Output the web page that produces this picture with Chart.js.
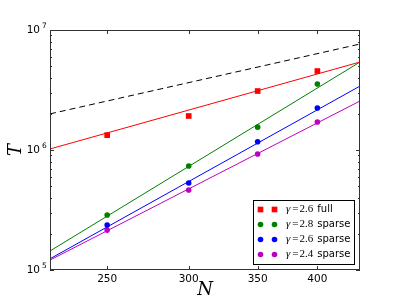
<!DOCTYPE html>
<html>
<head>
<meta charset="utf-8">
<script src="https://cdn.jsdelivr.net/npm/chart.js@4.4.1/dist/chart.umd.min.js"></script>
<style>
    html, body { margin: 0; padding: 0; background: #fff; }
    #wrap { width: 399px; height: 299px; }
</style>
</head>
<body>
<div id="wrap"><canvas id="grafico-tempo" width="399" height="299"></canvas></div>
<script>
// medidas (N, T)
const tamanhos = [250, 300, 350, 400];
const tFull26 = [1.33e6, 1.92e6, 3.10e6, 4.55e6];
const tSparse28 = [2.87e5, 7.36e5, 1.55e6, 3.55e6];
const tSparse26 = [2.37e5, 5.31e5, 1.17e6, 2.24e6];
const tSparse24 = [2.15e5, 4.64e5, 9.26e5, 1.71e6];

// retas de ajuste nas bordas do eixo
const ajusteN = [220, 440];
const ajusteFull26 = [1.02e6, 5.41e6];
const ajusteSparse28 = [1.44e5, 5.41e6];
const ajusteSparse26 = [1.24e5, 3.41e6];
const ajusteSparse24 = [1.21e5, 2.56e6];
const referencia = [2.0e6, 7.64e6];

const xTicks = [250, 300, 350, 400];
const yExpoentes = [5, 6, 7];

const pontos = (xs, ys) => xs.map((x, i) => ({ x, y: ys[i] }));
const isPotencia = v => Math.abs(Math.log10(v) - Math.round(Math.log10(v))) < 1e-9;

function serie(ys, cor, estilo, raio, gamma, tipo) {
    return {
        data: pontos(tamanhos, ys),
        backgroundColor: cor,
        borderColor: cor,
        pointStyle: estilo,
        pointRadius: raio,
        pointBorderWidth: 0,
        showLine: false,
        order: 0,
        legenda: { gamma, tipo }
    };
}

function reta(ys, cor, dash) {
    return {
        data: pontos(ajusteN, ys),
        borderColor: cor,
        borderWidth: 1,
        borderDash: dash || [],
        pointRadius: 0,
        showLine: true,
        fill: false,
        order: 1
    };
}

const molduraPlugin = {
    id: 'moldura',
    afterDraw(chart) {
        const { ctx, chartArea: a, scales: { x, y } } = chart;
        ctx.save();
        ctx.strokeStyle = '#333';
        ctx.lineWidth = 1;
        ctx.beginPath();
        y.ticks.forEach(t => {
            const py = Math.round(y.getPixelForValue(t.value)) + 0.5;
            const len = isPotencia(t.value) ? 4 : 2;
            ctx.moveTo(a.left, py); ctx.lineTo(a.left + len, py);
            ctx.moveTo(a.right, py); ctx.lineTo(a.right - len, py);
        });
        x.ticks.forEach(t => {
            const px = Math.round(x.getPixelForValue(t.value)) + 0.5;
            ctx.moveTo(px, a.bottom); ctx.lineTo(px, a.bottom - 4);
            ctx.moveTo(px, a.top); ctx.lineTo(px, a.top + 4);
        });
        ctx.stroke();
        ctx.strokeRect(a.left + 0.5, a.top + 0.5, a.width - 1, a.height - 1);

        // expoentes dos rotulos 10^k
        ctx.fillStyle = '#000';
        ctx.textBaseline = 'middle';
        ctx.textAlign = 'left';
        ctx.font = '7.5px "DejaVu Sans"';
        y.ticks.filter(t => isPotencia(t.value)).forEach(t => {
            const py = y.getPixelForValue(t.value);
            ctx.fillText(String(Math.round(Math.log10(t.value))), a.left - 8, py - 4);
        });

        // legenda com dois marcadores por entrada
        const entradas = chart.data.datasets.filter(d => d.legenda);
        const boxW = 101, boxH = 64;
        const bx = a.right - 6 - boxW, by = a.bottom - 6 - boxH;
        ctx.fillStyle = '#fff';
        ctx.fillRect(bx, by, boxW, boxH);
        ctx.strokeStyle = '#000';
        ctx.strokeRect(bx + 0.5, by + 0.5, boxW, boxH);
        entradas.forEach((d, i) => {
            const cy = by + 9.5 + i * 15;
            [bx + 7.5, bx + 21.5].forEach(cx => {
                ctx.fillStyle = d.backgroundColor;
                Chart.helpers.drawPoint(ctx, { pointStyle: d.pointStyle, radius: d.pointRadius, rotation: 0, borderWidth: 0 }, cx, cy);
            });
            ctx.fillStyle = '#000';
            let tx = bx + 33;
            ctx.font = 'italic 11px "Liberation Serif"';
            ctx.fillText('γ', tx, cy);
            tx += ctx.measureText('γ').width + 2;
            ctx.font = '11px "Liberation Serif"';
            ctx.fillText('=', tx, cy);
            tx += ctx.measureText('=').width + 1;
            ctx.fillText(d.legenda.gamma, tx, cy);
            tx += ctx.measureText(d.legenda.gamma).width + 4;
            ctx.font = '10px "DejaVu Sans"';
            ctx.fillText(d.legenda.tipo, tx, cy);
        });
        ctx.restore();
    }
};

function criarGrafico() {
    const data = {
        datasets: [
            serie(tFull26, '#ff0000', 'rect', 4, '2.6', 'full'),
            serie(tSparse28, '#008000', 'circle', 2.8, '2.8', 'sparse'),
            serie(tSparse26, '#0000ff', 'circle', 2.8, '2.6', 'sparse'),
            serie(tSparse24, '#bf00bf', 'circle', 2.8, '2.4', 'sparse'),
            reta(ajusteFull26, '#ff0000'),
            reta(ajusteSparse28, '#008000'),
            reta(ajusteSparse26, '#0000ff'),
            reta(ajusteSparse24, '#bf00bf'),
            reta(referencia, '#000000', [6, 4])
        ]
    };

    const config = {
        type: 'scatter',
        data,
        plugins: [molduraPlugin],
        options: {
            responsive: false,
            animation: false,
            events: [],
            layout: {
                padding: { left: 0, top: 30, right: 39, bottom: 0 }
            },
            plugins: {
                legend: { display: false },
                tooltip: { enabled: false }
            },
            scales: {
                x: {
                    type: 'logarithmic',
                    min: 220,
                    max: 440,
                    grid: { display: false, drawTicks: false },
                    border: { display: false },
                    afterBuildTicks: scale => {
                        scale.ticks = xTicks.map(v => ({ value: v }));
                    },
                    afterFit: scale => { scale.height = 29; },
                    ticks: {
                        autoSkip: false,
                        maxRotation: 0,
                        padding: 3,
                        color: '#000',
                        font: { family: 'DejaVu Sans', size: 10.5 },
                        callback: v => String(v)
                    },
                    title: {
                        display: true,
                        text: 'N',
                        color: '#000',
                        padding: { top: 0, bottom: 0 },
                        font: { family: 'DejaVu Serif', style: 'italic', size: 18, lineHeight: 1 }
                    }
                },
                y: {
                    type: 'logarithmic',
                    min: 1e5,
                    max: 1e7,
                    grid: { display: false, drawTicks: false },
                    border: { display: false },
                    afterBuildTicks: scale => {
                        const ticks = [];
                        yExpoentes.forEach(e => {
                            const passos = e === yExpoentes[yExpoentes.length - 1] ? 1 : 9;
                            for (let m = 1; m <= passos; m++) ticks.push({ value: m * Math.pow(10, e) });
                        });
                        scale.ticks = ticks;
                    },
                    afterFit: scale => { scale.width = 50; },
                    ticks: {
                        autoSkip: false,
                        padding: 10,
                        color: '#000',
                        font: { family: 'DejaVu Sans', size: 10.5 },
                        callback: v => isPotencia(v) ? '10' : ''
                    },
                    title: {
                        display: true,
                        text: 'T',
                        color: '#000',
                        padding: { top: 7, bottom: 0 },
                        font: { family: 'DejaVu Serif', style: 'italic', size: 18, lineHeight: 1 }
                    }
                }
            }
        }
    };

    const ctx = document.querySelector('#grafico-tempo').getContext('2d');
    new Chart(ctx, config);
}

criarGrafico();
</script>
</body>
</html>
